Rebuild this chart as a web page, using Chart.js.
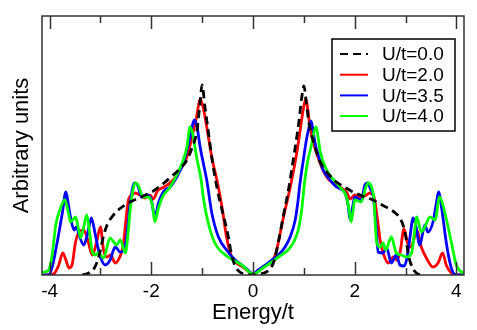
<!DOCTYPE html>
<html>
<head>
<meta charset="utf-8">
<script src="https://cdn.jsdelivr.net/npm/chart.js@4.4.1/dist/chart.umd.min.js"></script>
<style>
    html, body { margin: 0; padding: 0; background: #fff; }
    canvas { display: block; }
</style>
</head>
<body>
<canvas id="dosChart" width="477" height="330"></canvas>
<script>
// x ticks (labels only on even ones)
const xTicks = [-4, -3, -2, -1, 0, 1, 2, 3, 4];
const xTickLabels = ['-4', '', '-2', '', '0', '', '2', '', '4'];

const seriesLabels = ['U/t=0.0', 'U/t=2.0', 'U/t=3.5', 'U/t=4.0'];

// U/t = 0.0
const eU00 = [-3.36, -3.28, -3.2, -3.12, -3.06, -3.0, -2.95, -2.87, -2.76, -2.65, -2.45, -2.2, -1.96, -1.75, -1.57, -1.4, -1.3, -1.2, -1.1, -1.05, -1.0, -0.95, -0.87, -0.8, -0.7, -0.6, -0.5, -0.42, -0.34, -0.26, -0.15, 0, 0.15, 0.26, 0.34, 0.42, 0.5, 0.6, 0.7, 0.8, 0.9, 0.96, 1.0, 1.05, 1.1, 1.18, 1.28, 1.38, 1.5, 1.64, 1.8, 1.97, 2.2, 2.36, 2.5, 2.69, 2.8, 2.89, 2.95, 3.0, 3.05, 3.1, 3.16, 3.24, 3.34];
const dU00 = [0, 0.01, 0.03, 0.07, 0.14, 0.25, 0.37, 0.5, 0.59, 0.65, 0.72, 0.78, 0.84, 0.92, 1.0, 1.08, 1.15, 1.27, 1.45, 1.68, 1.9, 1.7, 1.4, 1.14, 0.85, 0.63, 0.42, 0.2, 0.08, 0.03, 0.01, 0, 0.01, 0.03, 0.06, 0.15, 0.33, 0.6, 0.86, 1.18, 1.52, 1.78, 1.89, 1.72, 1.52, 1.35, 1.18, 1.08, 1.0, 0.93, 0.88, 0.83, 0.78, 0.75, 0.71, 0.66, 0.62, 0.57, 0.5, 0.4, 0.22, 0.12, 0.05, 0.01, 0];

// U/t = 2.0
const eU20 = [-4.2, -4.0, -3.9, -3.82, -3.74, -3.68, -3.62, -3.56, -3.49, -3.42, -3.33, -3.25, -3.16, -3.08, -3.0, -2.94, -2.87, -2.8, -2.71, -2.62, -2.55, -2.5, -2.45, -2.38, -2.32, -2.22, -2.12, -2.03, -1.96, -1.88, -1.75, -1.57, -1.4, -1.3, -1.2, -1.11, -1.04, -0.97, -0.91, -0.8, -0.71, -0.61, -0.52, -0.42, -0.3, -0.2, -0.1, 0, 0.1, 0.2, 0.3, 0.37, 0.45, 0.5, 0.56, 0.63, 0.7, 0.8, 0.86, 0.92, 0.99, 1.04, 1.08, 1.12, 1.25, 1.45, 1.71, 1.84, 1.91, 2.0, 2.1, 2.2, 2.3, 2.38, 2.45, 2.5, 2.56, 2.66, 2.76, 2.82, 2.89, 2.97, 3.04, 3.1, 3.16, 3.22, 3.31, 3.41, 3.54, 3.64, 3.73, 3.8, 3.9, 4.0, 4.2];
const dU20 = [0, 0, 0.02, 0.1, 0.22, 0.15, 0.07, 0.1, 0.33, 0.43, 0.45, 0.35, 0.2, 0.32, 0.48, 0.25, 0.18, 0.2, 0.12, 0.18, 0.3, 0.55, 0.75, 0.8, 0.82, 0.8, 0.77, 0.8, 0.76, 0.84, 0.88, 0.95, 1.08, 1.18, 1.38, 1.58, 1.76, 1.65, 1.48, 1.15, 0.95, 0.68, 0.38, 0.18, 0.11, 0.08, 0.04, 0.01, 0.04, 0.08, 0.11, 0.13, 0.22, 0.33, 0.48, 0.65, 0.8, 1.05, 1.22, 1.42, 1.66, 1.76, 1.65, 1.48, 1.22, 0.98, 0.88, 0.83, 0.76, 0.8, 0.78, 0.79, 0.82, 0.78, 0.55, 0.35, 0.22, 0.12, 0.18, 0.15, 0.22, 0.46, 0.32, 0.28, 0.35, 0.45, 0.28, 0.17, 0.08, 0.12, 0.22, 0.1, 0.02, 0, 0];

// U/t = 3.5
const eU35 = [-4.2, -4.02, -3.95, -3.85, -3.75, -3.68, -3.63, -3.59, -3.52, -3.47, -3.42, -3.33, -3.25, -3.18, -3.1, -3.03, -2.97, -2.91, -2.81, -2.71, -2.61, -2.51, -2.46, -2.42, -2.33, -2.27, -2.19, -2.09, -2.0, -1.93, -1.86, -1.75, -1.63, -1.5, -1.37, -1.25, -1.15, -1.1, -1.04, -0.97, -0.91, -0.81, -0.68, -0.49, -0.37, -0.22, -0.1, 0, 0.1, 0.22, 0.37, 0.5, 0.63, 0.73, 0.83, 0.88, 0.92, 0.99, 1.05, 1.09, 1.14, 1.18, 1.22, 1.3, 1.38, 1.5, 1.64, 1.81, 1.87, 1.91, 1.96, 2.0, 2.13, 2.2, 2.25, 2.32, 2.36, 2.42, 2.46, 2.56, 2.63, 2.72, 2.82, 2.89, 2.97, 3.02, 3.08, 3.15, 3.2, 3.28, 3.38, 3.44, 3.54, 3.6, 3.65, 3.71, 3.8, 3.87, 3.93, 4.0, 4.2];
const dU35 = [0, 0, 0.08, 0.33, 0.62, 0.83, 0.7, 0.58, 0.45, 0.48, 0.4, 0.3, 0.42, 0.57, 0.4, 0.23, 0.14, 0.1, 0.15, 0.28, 0.23, 0.3, 0.5, 0.7, 0.92, 0.9, 0.78, 0.8, 0.75, 0.58, 0.72, 0.84, 0.88, 0.98, 1.12, 1.35, 1.55, 1.48, 1.28, 1.1, 0.95, 0.62, 0.38, 0.23, 0.16, 0.1, 0.05, 0.01, 0.05, 0.09, 0.15, 0.2, 0.28, 0.38, 0.55, 0.72, 0.9, 1.15, 1.35, 1.45, 1.54, 1.45, 1.32, 1.17, 1.05, 0.96, 0.88, 0.82, 0.7, 0.55, 0.68, 0.78, 0.75, 0.9, 0.92, 0.85, 0.8, 0.5, 0.23, 0.22, 0.27, 0.12, 0.2, 0.1, 0.09, 0.15, 0.35, 0.57, 0.5, 0.3, 0.5, 0.43, 0.53, 0.7, 0.83, 0.67, 0.33, 0.13, 0.03, 0, 0];

// U/t = 4.0
const eU40 = [-4.2, -4.1, -4.02, -3.95, -3.88, -3.8, -3.7, -3.63, -3.59, -3.53, -3.49, -3.44, -3.39, -3.33, -3.27, -3.22, -3.16, -3.1, -3.04, -2.94, -2.81, -2.74, -2.68, -2.61, -2.51, -2.46, -2.42, -2.36, -2.32, -2.26, -2.16, -2.06, -1.98, -1.93, -1.87, -1.78, -1.63, -1.5, -1.37, -1.3, -1.24, -1.18, -1.11, -1.02, -0.97, -0.88, -0.75, -0.49, -0.22, 0, 0.22, 0.37, 0.5, 0.69, 0.8, 0.89, 0.95, 1.02, 1.08, 1.15, 1.2, 1.24, 1.28, 1.32, 1.45, 1.71, 1.84, 1.89, 1.93, 1.97, 2.0, 2.13, 2.22, 2.27, 2.33, 2.38, 2.43, 2.5, 2.56, 2.61, 2.72, 2.82, 2.92, 3.02, 3.12, 3.17, 3.22, 3.31, 3.38, 3.48, 3.58, 3.67, 3.77, 3.9, 4.0, 4.1, 4.2];
const dU40 = [0.02, 0.03, 0.05, 0.2, 0.5, 0.65, 0.75, 0.62, 0.53, 0.56, 0.58, 0.48, 0.37, 0.48, 0.6, 0.45, 0.23, 0.2, 0.22, 0.17, 0.37, 0.33, 0.3, 0.35, 0.22, 0.4, 0.63, 0.85, 0.92, 0.9, 0.78, 0.78, 0.7, 0.53, 0.65, 0.78, 0.88, 1.0, 1.15, 1.28, 1.48, 1.4, 1.18, 0.95, 0.75, 0.52, 0.32, 0.18, 0.1, 0.01, 0.08, 0.13, 0.18, 0.25, 0.33, 0.45, 0.62, 0.95, 1.15, 1.3, 1.43, 1.48, 1.38, 1.24, 1.05, 0.88, 0.78, 0.65, 0.53, 0.65, 0.75, 0.73, 0.88, 0.92, 0.88, 0.75, 0.33, 0.28, 0.32, 0.25, 0.38, 0.22, 0.2, 0.18, 0.22, 0.4, 0.58, 0.43, 0.48, 0.58, 0.55, 0.78, 0.63, 0.33, 0.1, 0.03, 0.02];

const FONT = '"Liberation Sans", Arial, sans-serif';
Chart.defaults.font.family = FONT;
Chart.defaults.color = '#000';

const toPoints = (xs, ys) => xs.map((x, i) => ({ x: x, y: ys[i] }));

// frame around the plot with inward ticks on top and bottom
const framePlugin = {
    id: 'frame',
    afterDatasetsDraw(chart) {
        const { ctx, chartArea: a } = chart;
        const xs = chart.scales.x;
        ctx.save();
        ctx.strokeStyle = '#333';
        ctx.lineWidth = 1.5;
        ctx.strokeRect(a.left, a.top, a.right - a.left, a.bottom - a.top);
        ctx.beginPath();
        xTicks.forEach((v, i) => {
            const px = Math.round(xs.getPixelForValue(v)) + 0.5;
            const len = xTickLabels[i] ? 13 : 7;
            ctx.moveTo(px, a.bottom);
            ctx.lineTo(px, a.bottom - len);
            ctx.moveTo(px, a.top);
            ctx.lineTo(px, a.top + len);
        });
        ctx.stroke();
        ctx.restore();
    }
};

// legend box inside the plot, top right
const legendPlugin = {
    id: 'insideLegend',
    afterDraw(chart) {
        const ctx = chart.ctx;
        ctx.save();
        ctx.fillStyle = '#fff';
        ctx.fillRect(332, 39, 123, 92);
        ctx.strokeStyle = '#000';
        ctx.lineWidth = 1.5;
        ctx.strokeRect(332, 39, 123, 92);
        ctx.font = '19px ' + FONT;
        ctx.textBaseline = 'middle';
        chart.data.datasets.forEach((ds, i) => {
            const y = 54 + i * 20.7;
            ctx.beginPath();
            ctx.strokeStyle = ds.borderColor;
            ctx.lineWidth = 2;
            ctx.setLineDash(ds.borderDash || []);
            ctx.moveTo(340, y);
            ctx.lineTo(368, y);
            ctx.stroke();
            ctx.setLineDash([]);
            ctx.fillStyle = '#000';
            ctx.fillText(ds.label, 382, y + 1);
        });
        ctx.restore();
    }
};

new Chart(document.getElementById('dosChart'), {
    type: 'line',
    data: {
        datasets: [
            { label: seriesLabels[0], data: toPoints(eU00, dU00), borderColor: '#000000', borderDash: [8, 5], order: 0 },
            { label: seriesLabels[1], data: toPoints(eU20, dU20), borderColor: '#ff0000', order: 3 },
            { label: seriesLabels[2], data: toPoints(eU35, dU35), borderColor: '#0000ff', order: 2 },
            { label: seriesLabels[3], data: toPoints(eU40, dU40), borderColor: '#00ff00', order: 1 }
        ]
    },
    options: {
        responsive: false,
        animation: false,
        devicePixelRatio: 1,
        layout: { padding: { top: 16, right: 13, left: 0, bottom: 0 } },
        elements: {
            point: { radius: 0 },
            line: { borderWidth: 2.8, cubicInterpolationMode: 'monotone', fill: false }
        },
        plugins: {
            legend: { display: false },
            tooltip: { enabled: false }
        },
        scales: {
            x: {
                type: 'linear',
                min: -4.15,
                max: 4.15,
                afterBuildTicks: (scale) => { scale.ticks = xTicks.map(v => ({ value: v })); },
                afterFit: (scale) => { scale.height = 55; },
                ticks: {
                    autoSkip: false,
                    maxRotation: 0,
                    padding: 5,
                    font: { size: 19 },
                    color: '#000',
                    callback: (v) => xTickLabels[xTicks.indexOf(v)] || ''
                },
                grid: { display: false, drawTicks: false },
                border: { display: false },
                title: { display: true, text: 'Energy/t', font: { size: 22 }, color: '#000', padding: { top: 0, bottom: 4 } }
            },
            y: {
                min: 0,
                max: 2.59,
                afterFit: (scale) => { scale.width = 42; },
                ticks: { display: false },
                grid: { display: false, drawTicks: false },
                border: { display: false },
                title: { display: true, text: 'Arbitrary units', font: { size: 22 }, color: '#000', padding: { top: 9, bottom: 0 } }
            }
        }
    },
    plugins: [framePlugin, legendPlugin]
});
</script>
</body>
</html>
